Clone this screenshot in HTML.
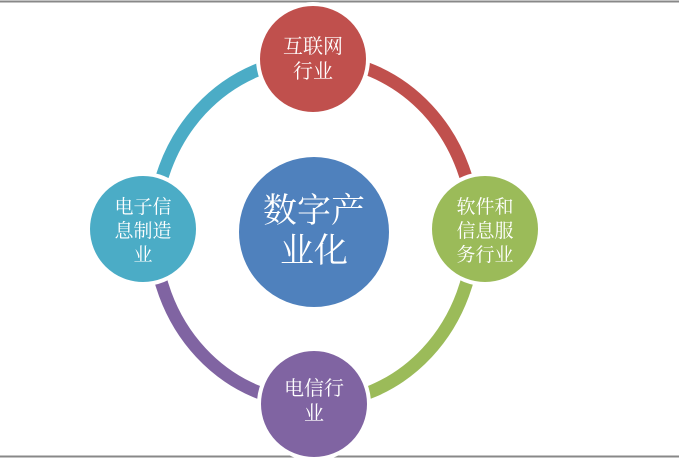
<!DOCTYPE html>
<html><head><meta charset="utf-8"><style>
html,body{margin:0;padding:0;background:#fff;}
svg{display:block}
text{font-family:"Liberation Serif","Noto Serif CJK SC","Noto Sans CJK SC",serif;fill:#fff;text-anchor:middle}
</style></head><body>
<svg width="679" height="458" viewBox="0 0 679 458">
<rect width="679" height="458" fill="#fff"/>
<line x1="0" y1="1.5" x2="679" y2="1.5" stroke="#888" stroke-width="2"/>
<line x1="0" y1="456.5" x2="679" y2="456.5" stroke="#888" stroke-width="2"/>
<g fill="none" stroke-width="13">
<path d="M314 59 A160 172 0 0 1 474 231" stroke="#c0504d"/>
<path d="M474 231 A160 172 0 0 1 314 403" stroke="#9bbb59"/>
<path d="M314 403 A160 172 0 0 1 154 231" stroke="#8064a2"/>
<path d="M154 231 A160 172 0 0 1 314 59" stroke="#4bacc6"/>
</g>
<g stroke="#fff" stroke-width="4">
<circle cx="313" cy="59" r="55" fill="#c0504d"/>
<circle cx="485" cy="229" r="55" fill="#9bbb59"/>
<circle cx="314" cy="404" r="55" fill="#8064a2"/>
<circle cx="143" cy="229" r="55" fill="#4bacc6"/>
<circle cx="314" cy="232" r="77" fill="#4f81bd"/>
</g>
<text x="313" y="53" font-size="20">互联网</text>
<text x="313" y="78" font-size="20">行业</text>
<text x="485" y="213" font-size="19">软件和</text>
<text x="485" y="237" font-size="19">信息服</text>
<text x="485" y="261" font-size="19">务行业</text>
<text x="143" y="213" font-size="19">电子信</text>
<text x="143" y="237" font-size="19">息制造</text>
<text x="143" y="261" font-size="19">业</text>
<text x="314" y="395" font-size="20">电信行</text>
<text x="314" y="420" font-size="20">业</text>
<text x="314" y="222" font-size="34">数字产</text>
<text x="314" y="262" font-size="34">业化</text>
</svg>
</body></html>
